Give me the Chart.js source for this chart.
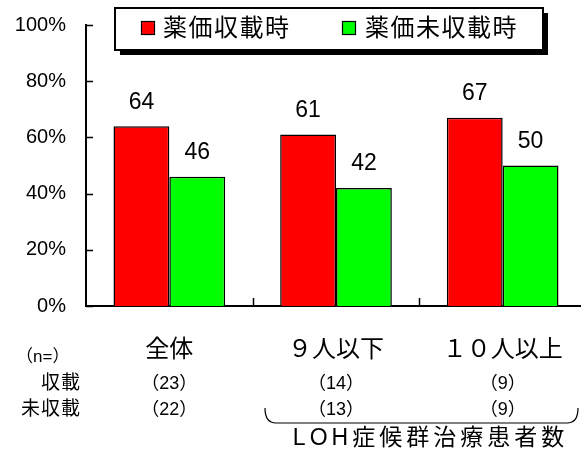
<!DOCTYPE html>
<html>
<head>
<meta charset="utf-8">
<script src="https://cdn.jsdelivr.net/npm/chart.js@4"></script>
<style>
  html, body { margin: 0; padding: 0; background: #fff; overflow: hidden; }
  #wrap { position: relative; width: 586px; height: 453px; }
</style>
</head>
<body>
<div id="wrap"><canvas id="chart"></canvas></div>
<script>
const categories = ['全体', '９人以下', '１０人以上'];
const seriesLabels = ['薬価収載時', '薬価未収載時'];
const listedValues = [64, 61, 67];
const unlistedValues = [46, 42, 50];
const listedN = ['（23）', '（14）', '（9）'];
const unlistedN = ['（22）', '（13）', '（9）'];
const rowLabels = ['（n=）', '収載', '未収載'];
const groupLabel = 'LOH症候群治療患者数';
const yMax = 100;
const yStep = 20;

const FONT = '"Liberation Sans", "Noto Sans CJK JP", sans-serif';

const extras = {
    id: 'extras',
    afterDraw(chart) {
        const ctx = chart.ctx;
        const a = chart.chartArea;
        const x = chart.scales.x;
        const y = chart.scales.y;
        ctx.save();

        // inner tick marks
        ctx.strokeStyle = '#000';
        ctx.lineWidth = 1.5;
        ctx.beginPath();
        y.ticks.forEach(t => {
            const py = Math.round(y.getPixelForValue(t.value)) + 0.5;
            ctx.moveTo(a.left, py);
            ctx.lineTo(a.left + 7, py);
        });
        for (let i = 1; i < categories.length; i++) {
            const px = Math.round((x.getPixelForValue(i - 1) + x.getPixelForValue(i)) / 2) + 0.5;
            ctx.moveTo(px, a.bottom);
            ctx.lineTo(px, a.bottom - 8);
        }
        ctx.stroke();

        // value labels over bars
        ctx.fillStyle = '#000';
        ctx.textAlign = 'center';
        ctx.textBaseline = 'middle';
        ctx.font = '23px ' + FONT;
        chart.data.datasets.forEach((ds, di) => {
            chart.getDatasetMeta(di).data.forEach((bar, i) => {
                ctx.fillText(ds.data[i], bar.x, bar.y - 24);
            });
        });

        // n rows
        ctx.font = '17px ' + FONT;
        ctx.textAlign = 'left';
        ctx.fillText(rowLabels[0], 16, 357);
        ctx.font = '19px ' + FONT;
        ctx.letterSpacing = '1px';
        ctx.textAlign = 'right';
        ctx.fillText(rowLabels[1], 81, 384);
        ctx.fillText(rowLabels[2], 81, 410);
        ctx.letterSpacing = '0px';
        ctx.font = '18px ' + FONT;
        ctx.textAlign = 'center';
        categories.forEach((c, i) => {
            const px = x.getPixelForValue(i);
            ctx.fillText(listedN[i], px, 384);
            ctx.fillText(unlistedN[i], px, 410);
        });

        // brace under the last two groups
        const bl = Math.round((x.getPixelForValue(0) + x.getPixelForValue(1)) / 2) + 12;
        const br = a.right - 8;
        const top = 408, bot = 423, r = 11;
        ctx.lineWidth = 1.2;
        ctx.beginPath();
        ctx.moveTo(bl, top);
        ctx.quadraticCurveTo(bl, bot, bl + r, bot);
        ctx.lineTo(br - r, bot);
        ctx.quadraticCurveTo(br, bot, br, top);
        ctx.stroke();

        ctx.font = '23px ' + FONT;
        ctx.letterSpacing = '4px';
        ctx.fillText(groupLabel, (bl + br) / 2 + 9, 439);
        ctx.letterSpacing = '0px';

        // legend box with shadow
        const lx = 115, ly = 8, lw = 428, lh = 42;
        ctx.fillStyle = '#000';
        ctx.fillRect(lx + 5, ly + 5, lw, lh);
        ctx.fillStyle = '#fff';
        ctx.fillRect(lx, ly, lw, lh);
        ctx.lineWidth = 2;
        ctx.strokeStyle = '#000';
        ctx.strokeRect(lx, ly, lw, lh);
        const items = [[141, 163], [342, 365]];
        chart.data.datasets.forEach((ds, di) => {
            const [sx, tx] = items[di];
            ctx.fillStyle = ds.backgroundColor;
            ctx.fillRect(sx, 21, 14, 14);
            ctx.lineWidth = 1.2;
            ctx.strokeRect(sx + 0.5, 21.5, 13, 13);
            ctx.fillStyle = '#000';
            ctx.font = '24px ' + FONT;
            ctx.textAlign = 'left';
            ctx.letterSpacing = '1.5px';
            ctx.fillText(ds.label, tx, 29);
            ctx.letterSpacing = '0px';
        });
        ctx.restore();
    }
};

const ctx = document.querySelector('#chart').getContext('2d');

const myChart = new Chart(ctx, {
    type: 'bar',
    data: {
        labels: categories,
        datasets: [{
            label: seriesLabels[0],
            data: listedValues,
            backgroundColor: '#ff0000',
            borderColor: '#000',
            borderWidth: 1.5
        }, {
            label: seriesLabels[1],
            data: unlistedValues,
            backgroundColor: '#00ff00',
            borderColor: '#000',
            borderWidth: 1.5
        }]
    },
    options: {
        responsive: true,
        maintainAspectRatio: false,
        animation: false,
        categoryPercentage: 0.67,
        barPercentage: 1.0,
        layout: { padding: { top: 25, right: 0, left: 0, bottom: 0 } },
        plugins: {
            legend: { display: false },
            tooltip: { enabled: false }
        },
        scales: {
            x: {
                grid: { display: false, drawTicks: false },
                border: { display: true, color: '#000', width: 2 },
                ticks: {
                    color: '#000',
                    padding: 30,
                    maxRotation: 0,
                    font: { family: FONT, size: 24 }
                },
                afterFit: (s) => {
                    s.height = 147;
                    s.paddingLeft = 0; s.paddingRight = 0;
                    s.paddingTop = 0; s.paddingBottom = 0;
                }
            },
            y: {
                min: 0,
                max: yMax,
                grid: { display: false, drawTicks: false },
                border: { display: true, color: '#000', width: 2 },
                ticks: {
                    stepSize: yStep,
                    color: '#000',
                    padding: 20,
                    font: { family: FONT, size: 20 },
                    callback: (v) => v + '%'
                },
                afterFit: (s) => {
                    s.width = 86;
                    s.paddingLeft = 0; s.paddingRight = 0;
                    s.paddingTop = 0; s.paddingBottom = 0;
                }
            }
        }
    },
    plugins: [extras]
});
</script>
</body>
</html>
